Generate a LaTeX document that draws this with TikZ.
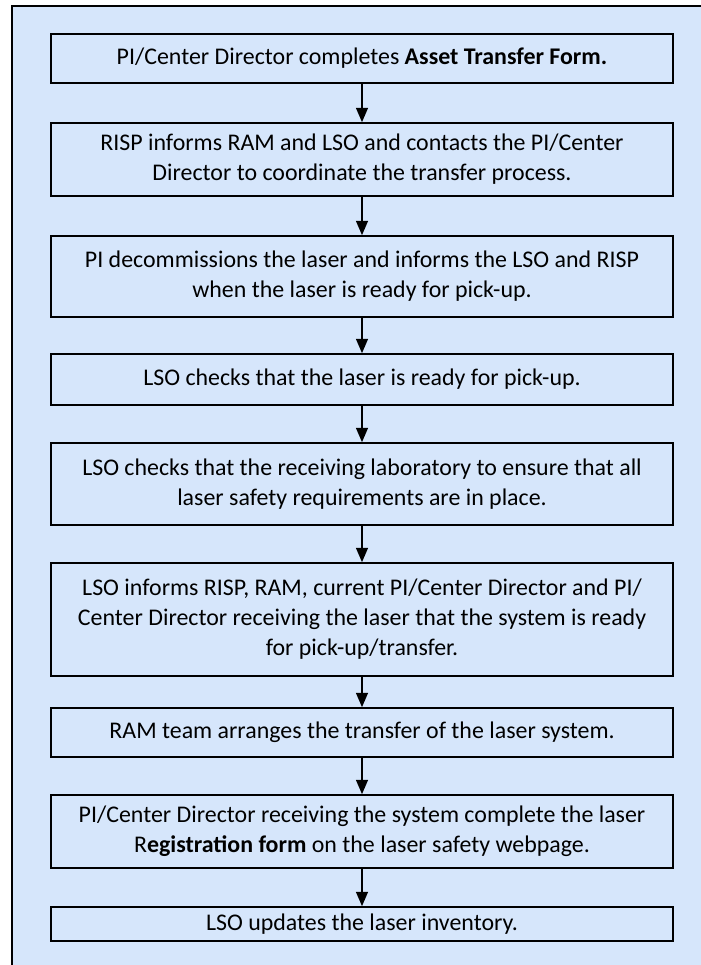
\documentclass[tikz,border=0pt]{standalone}
\usepackage{fontspec}
\setmainfont{Carlito}
\usepackage{xcolor}
\usepackage{tikz}
\usetikzlibrary{arrows.meta}

\definecolor{paleblue}{RGB}{214,230,251}

\begin{document}
\begin{tikzpicture}[
    font=\fontsize{17}{21.3}\selectfont,
    stepbox/.style={draw, line width=1.2pt, fill=paleblue, align=center,
                minimum width=15.55cm, inner sep=0pt},
    flow/.style={-{Triangle[length=3.6mm, width=3mm]}, line width=1.1pt}
]
\useasboundingbox (0,0) rectangle (17.525,-24.125);

% ---------- backdrop ----------
\draw[line width=1.2pt, fill=paleblue] (0.3,-0.15) rectangle (18,-25);

% ---------- steps ----------
\node[stepbox, minimum height=1.225cm] (form) at (9.05,-1.4625)
   {PI/Center Director completes \textbf{Asset Transfer Form.}};
\node[stepbox, minimum height=1.825cm] (inform) at (9.05,-3.9875)
   {RISP informs RAM and LSO and contacts the PI/Center\\ Director to coordinate the transfer process.};
\node[stepbox, minimum height=2.025cm] (decom) at (9.05,-6.9125)
   {PI decommissions the laser and informs the LSO and RISP\\ when the laser is ready for pick-up.};
\node[stepbox, minimum height=1.275cm] (ready) at (9.05,-9.4875)
   {LSO checks that the laser is ready for pick-up.};
\node[stepbox, minimum height=2.05cm] (lab) at (9.05,-12.1)
   {LSO checks that the receiving laboratory to ensure that all\\ laser safety requirements are in place.};
\node[stepbox, minimum height=2.825cm] (notify) at (9.05,-15.4875)
   {LSO informs RISP, RAM, current PI/Center Director and PI/\\ Center Director receiving the laser that the system is ready\\ for pick-up/transfer.};
\node[stepbox, minimum height=1.225cm] (move) at (9.05,-18.3125)
   {RAM team arranges the transfer of the laser system.};
\node[stepbox, minimum height=1.825cm] (reg) at (9.05,-20.7875)
   {PI/Center Director receiving the system complete the laser\\ R\textbf{egistration form} on the laser safety webpage.};
\node[stepbox, minimum height=0.85cm] (inv) at (9.05,-23.1)
   {LSO updates the laser inventory.};

% ---------- arrows ----------
\foreach \a/\b in {form/inform, inform/decom, decom/ready, ready/lab,
                   lab/notify, notify/move, move/reg, reg/inv}
   \draw[flow] (\a) -- (\b);

\end{tikzpicture}
\end{document}
